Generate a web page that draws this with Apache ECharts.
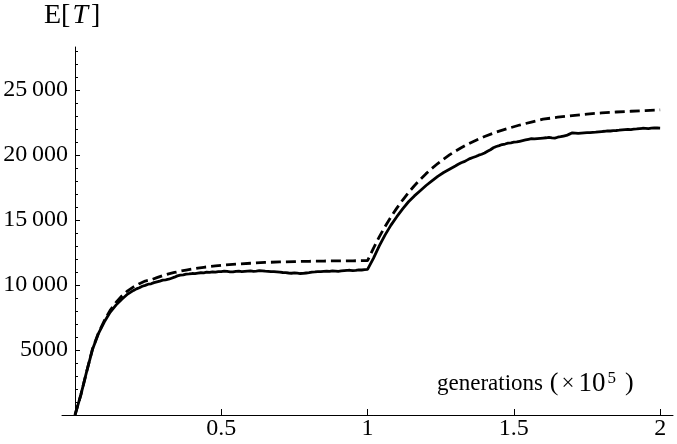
<!DOCTYPE html>
<html><head><meta charset="utf-8">
<script src="https://cdn.jsdelivr.net/npm/echarts@6/dist/echarts.min.js"></script>
<style>html,body{margin:0;padding:0;background:#fff}#c{width:677px;height:444px}</style>
</head><body><div id="c"></div>
<script>
// x in units of 10^5 generations
const theoryX = [0,0.02,0.04,0.06,0.08,0.10,0.12,0.14,0.16,0.18,0.20,0.22,0.24,0.26,0.28,0.30,0.32,0.34,0.36,0.38,0.40,0.42,0.44,0.46,0.48,0.50,0.55,0.60,0.65,0.70,0.75,0.80,0.85,0.90,0.95,1.00,
  1.02,1.04,1.06,1.08,1.10,1.12,1.14,1.16,1.18,1.20,1.22,1.24,1.26,1.28,1.30,1.32,1.34,1.36,1.38,1.40,1.44,1.48,1.52,1.56,1.60,1.65,1.70,1.75,1.80,1.85,1.90,1.95,2.00];
const theoryY = [0,1550,3350,5100,6300,7250,8050,8650,9150,9550,9850,10100,10300,10400,10560,10720,10850,10960,11060,11150,11230,11300,11360,11410,11460,11510,11600,11670,11730,11770,11800,11820,11840,11850,11860,11870,
  12820,13700,14500,15230,15910,16530,17110,17630,18110,18560,18960,19340,19680,20000,20290,20550,20800,21020,21230,21420,21760,22040,22300,22530,22750,22900,23030,23140,23230,23300,23360,23410,23460];

const simX = [0,0.02,0.04,0.06,0.08,0.10,0.12,0.14,0.16,0.18,
  0.20,0.21,0.22,0.23,0.24,0.25,0.26,0.27,0.28,0.29,0.30,0.31,0.32,0.33,0.34,0.35,0.36,0.37,0.38,0.39,
  0.40,0.41,0.42,0.43,0.44,0.45,0.46,0.47,0.48,0.49,0.50,0.51,0.52,0.53,0.54,0.55,0.56,0.57,0.58,0.59,
  0.60,0.61,0.62,0.63,0.64,0.65,0.66,0.67,0.68,0.69,0.70,0.71,0.72,0.73,0.74,0.75,0.76,0.77,0.78,0.79,
  0.80,0.81,0.82,0.83,0.84,0.85,0.86,0.87,0.88,0.89,0.90,0.91,0.92,0.93,0.94,0.95,0.96,0.97,0.98,0.99,1.00,
  1.02,1.04,1.06,1.08,1.10,1.12,1.14,1.16,1.18,1.20,1.22,1.24,1.26,1.28,
  1.30,1.31,1.32,1.33,1.34,1.35,1.36,1.37,1.38,1.39,1.40,1.41,1.42,1.43,1.44,1.45,1.46,1.47,1.48,1.49,
  1.50,1.51,1.52,1.53,1.54,1.55,1.56,1.57,1.58,1.59,1.60,1.61,1.62,1.63,1.64,1.65,1.66,1.67,1.68,1.69,
  1.70,1.71,1.72,1.73,1.74,1.75,1.76,1.77,1.78,1.79,1.80,1.81,1.82,1.83,1.84,1.85,1.86,1.87,1.88,1.89,
  1.90,1.91,1.92,1.93,1.94,1.95,1.96,1.97,1.98,1.99,2.00];
const simY = [0,1550,3350,5050,6250,7150,7900,8450,8900,9300,
  9580,9700,9790,9900,9970,10060,10090,10180,10240,10300,10370,10400,10440,10520,10600,10700,10760,10780,10830,10850,
  10880,10870,10910,10940,10930,10980,10970,11010,10990,11030,11020,11060,11040,11010,11000,11050,11060,11030,11050,11070,
  11080,11050,11070,11110,11090,11060,11050,11030,11020,11000,10980,10960,10950,10920,10900,10930,10910,10880,10890,10920,
  10950,10990,11000,11020,11030,11050,11060,11040,11080,11070,11050,11080,11100,11120,11130,11110,11120,11160,11150,11180,11200,
  12050,13000,13850,14600,15250,15850,16400,16850,17250,17650,18000,18350,18650,18900,
  19150,19280,19400,19480,19600,19720,19800,19880,19980,20050,20150,20280,20400,20550,20650,20720,20800,20840,20900,20930,
  20980,21000,21050,21100,21150,21200,21250,21230,21260,21280,21300,21320,21350,21310,21300,21360,21400,21450,21500,21600,
  21700,21680,21650,21680,21700,21710,21720,21740,21750,21780,21800,21820,21850,21840,21870,21880,21900,21930,21950,21970,
  21950,21980,22000,22030,22050,22040,22030,22060,22080,22070,22060];

const xTicks = [0.5,1,1.5,2];
const xTickLabels = ['0.5','1','1.5','2'];
const yTicks = [5000,10000,15000,20000,25000];
const yTickLabels = ['5000','10\u2009000','15\u2009000','20\u2009000','25\u2009000'];
const yMinorTicks = [1000,2000,3000,4000,6000,7000,8000,9000,11000,12000,13000,14000,16000,17000,18000,19000,21000,22000,23000,24000,26000,27000,28000];

const FONT = '"Liberation Serif", "DejaVu Serif", serif';
const chart = echarts.init(document.getElementById('c'), null, {renderer:'canvas'});
const zip = (a,b) => a.map((v,i)=>[v,b[i]]);
chart.setOption({
  animation:false,
  grid:[
    {left:75,right:4,top:47,bottom:29,outerBoundsMode:'none'},
    {left:62,width:13,top:47,bottom:29,outerBoundsMode:'none'}
  ],
  xAxis:[{type:'value',gridIndex:0,min:0,max:2.044,
    axisLine:{onZero:false,lineStyle:{color:'#000',width:1}},
    axisTick:{inside:true,length:6,customValues:xTicks,lineStyle:{color:'#000'}},
    axisLabel:{customValues:xTicks,formatter:(v)=>xTickLabels[xTicks.indexOf(v)]||'',color:'#000',fontFamily:FONT,fontSize:24,margin:2},
    splitLine:{show:false}},
   {type:'value',gridIndex:1,min:0,max:1,
    axisLine:{onZero:false,lineStyle:{color:'#000',width:1}},
    axisTick:{show:false},axisLabel:{show:false},splitLine:{show:false}}],
  yAxis:[{type:'value',gridIndex:0,min:0,max:28300,
    axisLine:{show:true,onZero:false,lineStyle:{color:'#000',width:1}},
    axisTick:{show:true,inside:true,length:5,customValues:yTicks,lineStyle:{color:'#000'}},
    axisLabel:{customValues:yTicks,formatter:(v)=>yTickLabels[yTicks.indexOf(v)]||'',color:'#000',fontFamily:FONT,fontSize:24,margin:7},
    splitLine:{show:false}},
   {type:'value',gridIndex:0,min:0,max:28300,position:'left',
    axisLine:{show:false,onZero:false},
    axisTick:{show:true,inside:true,length:3,customValues:yMinorTicks,lineStyle:{color:'#000'}},
    axisLabel:{show:false},splitLine:{show:false}},
   {type:'value',gridIndex:1,min:0,max:1,show:false}],
  graphic:[
    {type:'text',left:44,top:2,style:{text:'{n|E[}{i|T}{n|]}',rich:{
      n:{fontFamily:FONT,fontSize:28,fill:'#000'},
      i:{fontFamily:FONT,fontSize:28,fontStyle:'italic',fill:'#000',padding:[0,3,0,2]}}}},
    {type:'text',left:437,top:370,style:{text:'{n|generations }{p|(}{x|×}{t|10}{s|5}{p|)}',rich:{
      n:{fontFamily:FONT,fontSize:23,fill:'#000'},
      p:{fontFamily:FONT,fontSize:26,fill:'#000',padding:[0,0,0,1]},
      x:{fontFamily:FONT,fontSize:23,fill:'#000',padding:[0,4,0,3]},
      t:{fontFamily:FONT,fontSize:27,fill:'#000',padding:[0,1,0,0]},
      s:{fontFamily:FONT,fontSize:17,fill:'#000',verticalAlign:'top',padding:[0,8,10,1]}}}}
  ],
  series:[
    {type:'line',xAxisIndex:0,yAxisIndex:0,data:zip(theoryX,theoryY),showSymbol:false,smooth:false,
      lineStyle:{color:'#000',width:2.8,type:[10,5]},z:2},
    {type:'line',xAxisIndex:0,yAxisIndex:0,data:zip(simX,simY),showSymbol:false,smooth:false,
      lineStyle:{color:'#000',width:2.8},z:3}
  ]
});
</script></body></html>
